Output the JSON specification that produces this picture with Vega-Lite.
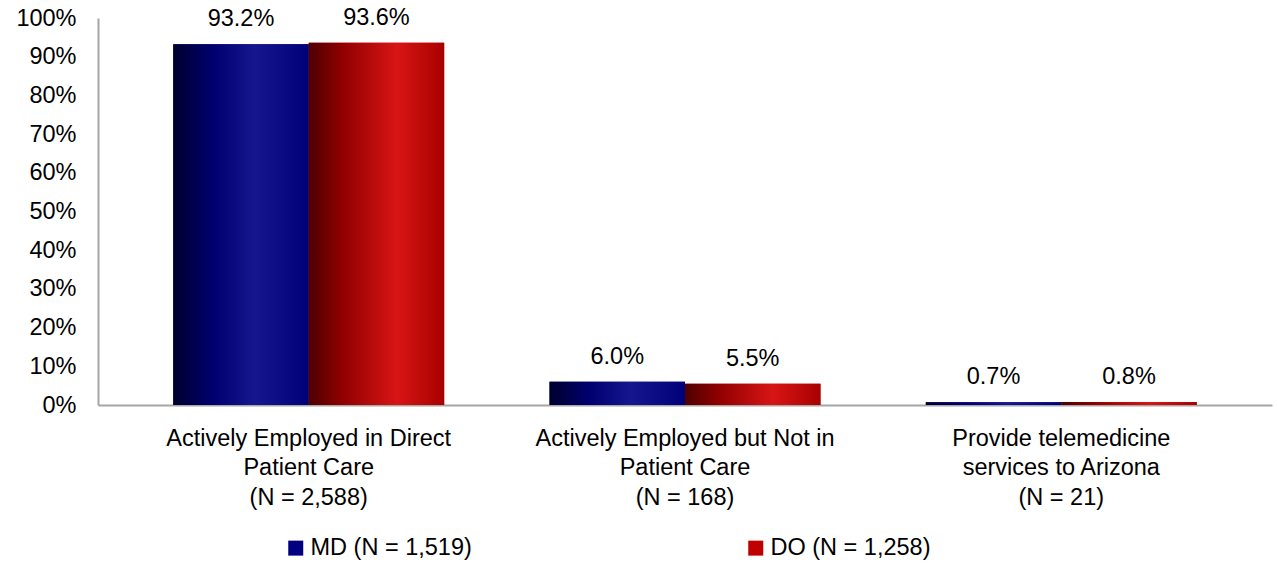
{
  "$schema": "https://vega.github.io/schema/vega-lite/v6.json",
  "width": 1174,
  "height": 387,
  "autosize": {"type": "none"},
  "padding": {"left": 98, "top": 18, "right": 5, "bottom": 160},
  "background": "white",
  "config": {
    "view": {"stroke": null},
    "font": "Liberation Sans",
    "axis": {"grid": false, "ticks": false, "domainColor": "#a6a6a6", "domainWidth": 2, "labelColor": "#000000", "labelFont": "Liberation Sans", "labelFontSize": 23.5, "labelLimit": 0, "title": null}
  },
  "data": {
    "values": [
      {"category": "Actively Employed in Direct|Patient Care|(N = 2,588)", "series": "MD (N = 1,519)", "value": 93.2, "label": "93.2%"},
      {"category": "Actively Employed in Direct|Patient Care|(N = 2,588)", "series": "DO (N = 1,258)", "value": 93.6, "label": "93.6%"},
      {"category": "Actively Employed but Not in|Patient Care|(N = 168)", "series": "MD (N = 1,519)", "value": 6.0, "label": "6.0%"},
      {"category": "Actively Employed but Not in|Patient Care|(N = 168)", "series": "DO (N = 1,258)", "value": 5.5, "label": "5.5%"},
      {"category": "Provide telemedicine|services to Arizona|(N = 21)", "series": "MD (N = 1,519)", "value": 0.7, "label": "0.7%"},
      {"category": "Provide telemedicine|services to Arizona|(N = 21)", "series": "DO (N = 1,258)", "value": 0.8, "label": "0.8%"}
    ]
  },
  "encoding": {
    "x": {
      "field": "category",
      "type": "nominal",
      "sort": null,
      "scale": {"paddingInner": 0.28, "paddingOuter": 0.2},
      "axis": {"labelAngle": 0, "labelExpr": "split(datum.value, '|')", "labelPadding": 33, "labelLineHeight": 29.5, "labelBaseline": "middle", "domainColor": "#a6a6a6"}
    },
    "xOffset": {
      "field": "series",
      "type": "nominal",
      "scale": {"domain": ["MD (N = 1,519)", "DO (N = 1,258)"], "paddingInner": 0, "paddingOuter": 0}
    },
    "y": {
      "field": "value",
      "type": "quantitative",
      "scale": {"domain": [0, 100], "nice": false},
      "axis": {"values": [0, 10, 20, 30, 40, 50, 60, 70, 80, 90, 100], "labelExpr": "datum.value + '%'", "labelPadding": 22, "labelBaseline": "middle"}
    }
  },
  "layer": [
    {
      "mark": {"type": "bar"},
      "encoding": {
        "color": {
          "field": "series",
          "type": "nominal",
          "scale": {"domain": ["MD (N = 1,519)", "DO (N = 1,258)"], "range": ["#000080", "#c00000"]},
          "legend": {
            "title": null,
            "orient": "none",
            "direction": "horizontal",
            "legendX": 186,
            "legendY": 518,
            "symbolType": "square",
            "symbolSize": 225,
            "symbolStrokeWidth": 0,
            "symbolOpacity": 1,
            "labelFontSize": 23.5,
            "labelFont": "Liberation Sans",
            "labelColor": "#000000",
            "labelOffset": 3,
            "labelLimit": 0,
            "columnPadding": 272
          }
        }
      }
    },
    {
      "transform": [{"filter": "datum.series === 'MD (N = 1,519)'"}],
      "mark": {
        "type": "bar",
        "fill": {
          "gradient": "linear", "x1": 0, "x2": 1, "y1": 0, "y2": 0,
          "stops": [
            {"offset": 0, "color": "#00002e"},
            {"offset": 0.3, "color": "#000070"},
            {"offset": 0.6, "color": "#16168f"},
            {"offset": 1, "color": "#000078"}
          ]
        }
      }
    },
    {
      "transform": [{"filter": "datum.series === 'DO (N = 1,258)'"}],
      "mark": {
        "type": "bar",
        "fill": {
          "gradient": "linear", "x1": 0, "x2": 1, "y1": 0, "y2": 0,
          "stops": [
            {"offset": 0, "color": "#4e0000"},
            {"offset": 0.25, "color": "#900000"},
            {"offset": 0.65, "color": "#d81515"},
            {"offset": 1, "color": "#a80000"}
          ]
        }
      }
    },
    {
      "mark": {"type": "text", "baseline": "bottom", "dy": -13, "fontSize": 23.5, "font": "Liberation Sans", "color": "#000000"},
      "encoding": {"text": {"field": "label"}}
    }
  ]
}
